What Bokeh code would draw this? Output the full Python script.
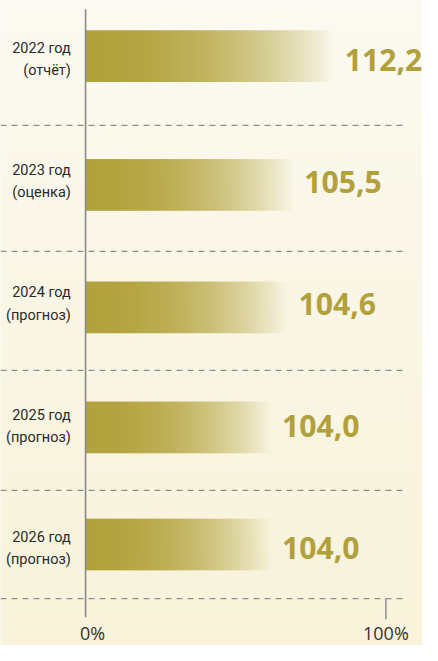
import numpy as np
from bokeh.plotting import figure
from bokeh.models import Range1d
from bokeh.core.properties import value
from bokeh.embed import file_html
from bokeh.resources import INLINE

# ---- data ----
years = ["2022 год", "2023 год", "2024 год", "2025 год", "2026 год"]
statuses = ["(отчёт)", "(оценка)", "(прогноз)", "(прогноз)", "(прогноз)"]
values = [112.2, 105.5, 104.6, 104.0, 104.0]
value_labels = ["112,2", "105,5", "104,6", "104,0", "104,0"]
bar_pct = [83.0, 69.5, 67.6, 62.1, 62.1]      # drawn bar length, % of axis
tick_pct = [0, 100]
tick_labels = ["0%", "100%"]

# ---- layout (reference pixel rows) ----
bar_y = [57, 189, 314.5, 437.5, 557.5]
label_y = [60.5, 185.5, 311.0, 436.5, 561.5]
sep_y = [128, 257, 379, 502, 613]
BAR_H = 53
PX_PER_PCT = 3.117
X0 = 88.3
REF_W, REF_H = 438, 661
W, H = 422, 645
S = 0.97   # font scale

x_lo = (0 - X0) / PX_PER_PCT
x_hi = (REF_W - X0) / PX_PER_PCT

p = figure(width=W, height=H, output_backend="svg", toolbar_location=None,
           x_range=Range1d(x_lo, x_hi), y_range=Range1d(REF_H, 0),
           min_border=0, x_axis_location=None, y_axis_location=None)
p.grid.visible = False
p.outline_line_color = None
p.background_fill_color = "#fbf8ea"
p.border_fill_color = "#fbf8ea"

# background vertical gradient
nb = 40
edges = np.linspace(0, REF_H, nb + 1)
top = np.array([252, 250, 241])
bot = np.array([248, 243, 218])
cols = []
for i in range(nb):
    t = (i + 0.5) / nb
    c = (top * (1 - t) + bot * t).astype(int)
    cols.append("#%02x%02x%02x" % tuple(c))
p.quad(left=x_lo, right=x_hi, top=edges[:-1], bottom=edges[1:] + 0.5,
       fill_color=cols, line_color=None)

# gradient bars as RGBA images
n = 256
grad = np.zeros((1, n), dtype=np.uint32)
view = grad.view(dtype=np.uint8).reshape((1, n, 4))
t = np.linspace(0, 1, n)
view[0, :, 0] = 0xb2
view[0, :, 1] = 0xa2
view[0, :, 2] = 0x3c
view[0, :, 3] = np.clip((1 - t ** 2.2) * 255, 0, 255).astype(np.uint8)
p.image_rgba(image=[grad] * len(bar_pct), x=[0] * len(bar_pct),
             y=[y - BAR_H / 2 for y in bar_y], dw=bar_pct,
             dh=[BAR_H] * len(bar_pct))

# dashed separators
p.segment(x0=[x_lo] * len(sep_y), x1=[(418 - X0) / PX_PER_PCT] * len(sep_y),
          y0=sep_y, y1=sep_y, line_color="#8e8e8e", line_width=1.2,
          line_dash="6 5")

# vertical axis line at 0% and tick at 100%
p.segment(x0=[tick_pct[0]], x1=[tick_pct[0]], y0=[9], y1=[632],
          line_color="#8a8a8a", line_width=1.6)
p.segment(x0=[tick_pct[1]], x1=[tick_pct[1]], y0=[613], y1=[634],
          line_color="#8a8a8a", line_width=1.4)

# axis labels
p.text(x=tick_pct, y=[648, 648], text=tick_labels, text_align="center",
       text_baseline="middle", text_font=value("Open Sans"),
       text_font_size="%dpx" % round(19 * S), text_color="#333333",
       x_offset=[7, 0])

# category labels
lx = [(73 - X0) / PX_PER_PCT] * len(years)
fs_cat = "%.1fpx" % (15 * S)
p.text(x=lx, y=[y - 11.5 for y in label_y], text=years, text_align="right",
       text_baseline="middle", text_font=value("Roboto"), text_font_size=fs_cat,
       text_color="#2b2b2b")
p.text(x=lx, y=[y + 11.5 for y in label_y], text=statuses, text_align="right",
       text_baseline="middle", text_font=value("Roboto"), text_font_size=fs_cat,
       text_color="#2b2b2b")

# value labels
p.text(x=bar_pct, y=label_y, text=value_labels,
       text_align="left", text_baseline="middle", x_offset=10,
       text_font=value("Open Sans"), text_font_style="bold",
       text_font_size="%.1fpx" % (31 * S), text_color="#b1a03c")

open("out.html", "w").write(file_html(p, INLINE))
